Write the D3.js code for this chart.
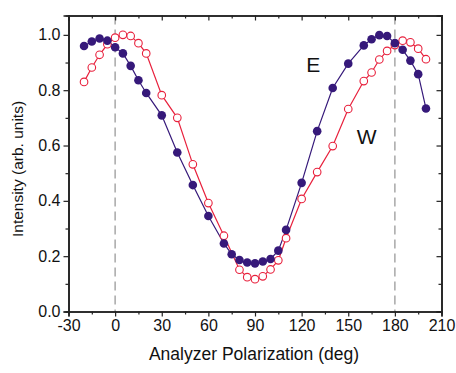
<!DOCTYPE html>
<html>
<head>
<meta charset="utf-8">
<script src="https://cdn.jsdelivr.net/npm/d3@7"></script>
<style>
  body { margin: 0; background: #fff; }
  svg text { font-family: "Liberation Sans", Arial, sans-serif; fill: #111; }
  .axis path, .axis line { stroke: #222; }
</style>
</head>
<body>
<div id="chart"></div>
<script>
// E series (filled)
const eAngles = [-20, -15, -10, -5, 0, 5, 10, 15, 20, 30, 40, 50, 60, 70, 75, 80, 85, 90, 95, 100, 105, 110, 120, 130, 140, 150, 160, 165, 170, 175, 180, 185, 190, 195, 200];
const eValues = [0.96, 0.976, 0.987, 0.979, 0.955, 0.933, 0.888, 0.836, 0.79, 0.709, 0.575, 0.457, 0.345, 0.246, 0.207, 0.186, 0.177, 0.174, 0.181, 0.19, 0.22, 0.295, 0.465, 0.652, 0.808, 0.896, 0.962, 0.984, 0.999, 0.996, 0.97, 0.946, 0.907, 0.858, 0.734];
// W series (open)
const wAngles = [-20, -15, -10, -5, 0, 5, 10, 15, 20, 30, 40, 50, 60, 70, 80, 85, 90, 95, 100, 105, 110, 120, 130, 140, 150, 160, 165, 170, 175, 180, 185, 190, 195, 200];
const wValues = [0.83, 0.882, 0.928, 0.966, 0.99, 1.0, 0.996, 0.97, 0.933, 0.782, 0.7, 0.532, 0.392, 0.274, 0.151, 0.124, 0.117, 0.127, 0.152, 0.185, 0.265, 0.407, 0.504, 0.598, 0.732, 0.833, 0.864, 0.911, 0.942, 0.963, 0.979, 0.973, 0.95, 0.912];
const xTicks = [-30, 0, 30, 60, 90, 120, 150, 180, 210];
const yTicks = [0, 0.2, 0.4, 0.6, 0.8, 1.0];
const refLines = [0, 180];

const W = 456, H = 373;
const margin = { top: 15.5, right: 14.5, bottom: 61.5, left: 68.5 };
const width = W - margin.left - margin.right;
const height = H - margin.top - margin.bottom;

const svg = d3.select('#chart').append('svg')
  .attr('width', W).attr('height', H)
  .append('g')
  .attr('transform', `translate(${margin.left},${margin.top})`);

const x = d3.scaleLinear().domain([-30, 210]).range([0, width]);
const y = d3.scaleLinear().domain([0, 1.07]).range([height, 0]);

// reference dashed lines
svg.selectAll('.ref').data(refLines).enter().append('line')
  .attr('x1', d => x(d)).attr('x2', d => x(d))
  .attr('y1', 0).attr('y2', height)
  .attr('stroke', '#a8a8a8').attr('stroke-width', 1.5)
  .attr('stroke-dasharray', '9,5');

// axes: major + minor ticks
const minorX = d3.range(-30, 211, 15).filter(v => !xTicks.includes(v));
const minorY = d3.range(0.1, 1.01, 0.2);

const axBottom = svg.append('g').attr('class', 'axis').attr('transform', `translate(0,${height})`);
axBottom.call(d3.axisBottom(x).tickValues(xTicks).tickSize(5).tickPadding(3).tickFormat(d => String(d)));
axBottom.append('g').call(d3.axisBottom(x).tickValues(minorX).tickSize(3).tickFormat(''));
const axTop = svg.append('g').attr('class', 'axis');
axTop.call(d3.axisTop(x).tickValues(xTicks).tickSize(-5).tickFormat(''));
axTop.append('g').call(d3.axisTop(x).tickValues(minorX).tickSize(-3).tickFormat(''));
const axLeft = svg.append('g').attr('class', 'axis');
axLeft.call(d3.axisLeft(y).tickValues(yTicks).tickSize(5).tickPadding(3).tickFormat(d3.format('.1f')));
axLeft.append('g').call(d3.axisLeft(y).tickValues(minorY).tickSize(3).tickFormat(''));
const axRight = svg.append('g').attr('class', 'axis').attr('transform', `translate(${width},0)`);
axRight.call(d3.axisRight(y).tickValues(yTicks).tickSize(-5).tickFormat(''));
axRight.append('g').call(d3.axisRight(y).tickValues(minorY).tickSize(-3).tickFormat(''));

svg.selectAll('.axis path').attr('stroke-width', 1.6);
svg.selectAll('.axis line').attr('stroke-width', 1.2);
svg.selectAll('.axis text').style('font-size', '16px');

// series
const eData = eAngles.map((a, i) => ({ a, v: eValues[i] }));
const wData = wAngles.map((a, i) => ({ a, v: wValues[i] }));
const line = d3.line().x(d => x(d.a)).y(d => y(d.v));

const eColor = '#36197a', wColor = '#e8203c';

svg.append('path').datum(wData).attr('d', line)
  .attr('fill', 'none').attr('stroke', wColor).attr('stroke-width', 1.2);
svg.append('path').datum(eData).attr('d', line)
  .attr('fill', 'none').attr('stroke', eColor).attr('stroke-width', 1.2);

svg.selectAll('.w').data(wData).enter().append('circle')
  .attr('cx', d => x(d.a)).attr('cy', d => y(d.v)).attr('r', 3.8)
  .attr('fill', '#fff').attr('stroke', wColor).attr('stroke-width', 1.1);
svg.selectAll('.e').data(eData).enter().append('circle')
  .attr('cx', d => x(d.a)).attr('cy', d => y(d.v)).attr('r', 4.3)
  .attr('fill', eColor);

// series labels
svg.append('text').attr('x', x(123)).attr('y', y(0.865)).text('E').style('font-size', '21px');
svg.append('text').attr('x', x(155.5)).attr('y', y(0.606)).text('W').style('font-size', '21px');

// axis titles
svg.append('text').attr('x', x(90) - 1).attr('y', height + 48)
  .attr('text-anchor', 'middle').style('font-size', '17.5px')
  .text('Analyzer Polarization (deg)');
svg.append('text')
  .attr('transform', `translate(${-46},${169 - margin.top}) rotate(-90)`)
  .attr('text-anchor', 'middle').style('font-size', '15.5px')
  .text('Intensity (arb. units)');
</script>
</body>
</html>
